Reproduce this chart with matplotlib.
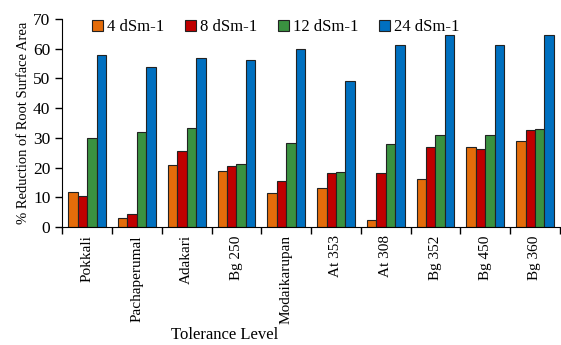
import numpy as np
from matplotlib import pyplot as plt

varieties = ["Pokkali", "Pachaperumal", "Adakari", "Bg 250", "Modaikarupan",
             "At 353", "At 308", "Bg 352", "Bg 450", "Bg 360"]
series_names = ["4 dSm-1", "8 dSm-1", "12 dSm-1", "24 dSm-1"]
ec4 = [11.8, 2.9, 21.0, 18.8, 11.4, 13.0, 2.5, 16.2, 27.0, 29.1]
ec8 = [10.4, 4.5, 25.7, 20.4, 15.5, 18.1, 18.1, 27.0, 26.3, 32.7]
ec12 = [29.9, 32.1, 33.4, 21.3, 28.3, 18.4, 28.0, 31.1, 31.1, 33.1]
ec24 = [57.8, 53.9, 56.8, 56.1, 60.0, 49.0, 61.2, 64.7, 61.2, 64.7]
colors = ["#E46C0A", "#C00000", "#3A9240", "#0070C0"]

plt.rcParams['font.family'] = ['Liberation Serif', 'DejaVu Serif']

fig = plt.figure(figsize=(5.61, 3.45), dpi=100)
ax = fig.add_axes([0.111, 0.342, 0.887, 0.603])

x = np.arange(len(varieties))
width = 0.19
for i, (vals, name) in enumerate(zip([ec4, ec8, ec12, ec24], series_names)):
    ax.bar(x + (i - 1.5) * width, vals, width, color=colors[i], edgecolor="#222222",
           linewidth=0.8, label=name)

ax.set_xlim(-0.5, len(varieties) - 0.5)
ax.set_ylim(0, 70)
ax.set_yticks(range(0, 71, 10))
ax.set_xticks(np.arange(len(varieties) + 1) - 0.5, minor=False)
ax.set_xticklabels([])
ax.set_xticks(x, minor=True)
ax.set_xticklabels(varieties, minor=True, rotation=90, fontsize=11)
ax.tick_params(axis="x", which="minor", length=0, pad=6)
ax.tick_params(axis="x", which="major", length=5, width=1, direction="out")
ax.tick_params(axis="y", length=5, width=1, labelsize=12.5)
ax.spines["top"].set_visible(False)
ax.spines["right"].set_visible(False)

ax.set_ylabel("% Reduction of Root Surface Area", fontsize=10.5, labelpad=2)
ax.set_xlabel("Tolerance Level", fontsize=12)
ax.xaxis.set_label_coords(0.326, -0.48)

ax.legend(loc="upper left", bbox_to_anchor=(0.03, 1.07), ncol=4, frameon=False,
          fontsize=12, handlelength=0.65, handleheight=0.65, handletextpad=0.25,
          columnspacing=1.25)

fig.savefig("out.png")
